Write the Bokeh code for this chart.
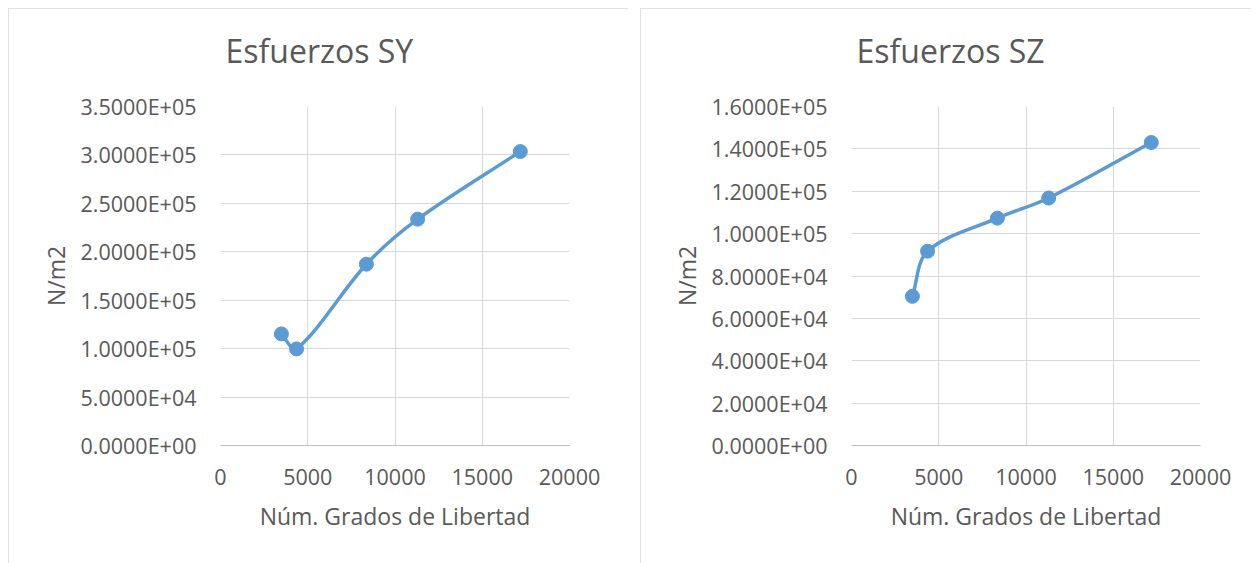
import math
from bokeh.plotting import figure
from bokeh.layouts import row
from bokeh.models import Range1d, FixedTicker, ColumnDataSource, Title
from bokeh.embed import file_html
from bokeh.resources import INLINE

# ---- data ----
dof = [3490, 4360, 8360, 11300, 17180]
sy_values = [115200, 99700, 187200, 233700, 303500]
sz_values = [70400, 91700, 107300, 116800, 143000]

x_ticks = [0, 5000, 10000, 15000, 20000]
sy_ticks = [0, 50000, 100000, 150000, 200000, 250000, 300000, 350000]
sz_ticks = [0, 20000, 40000, 60000, 80000, 100000, 120000, 140000, 160000]

titles = ["Esfuerzos SY", "Esfuerzos SZ"]
x_label = "Núm. Grados de Libertad"
y_label = "N/m2"

BLUE = "#5B9BD5"
TEXT = "#595959"
GRID = "#D9D9D9"
FONT = "Open Sans"

FRAME_W = 349
FRAME_H = 339


def smooth_source(xs, ys, xspan, yspan):
    """Bezier control points for a smoothed line (distance-weighted cardinal spline)."""
    kx = FRAME_W / xspan
    ky = FRAME_H / yspan
    n = len(xs)

    def dist(i, j):
        return math.hypot((xs[j] - xs[i]) * kx, (ys[j] - ys[i]) * ky)

    t = 1.0 / 3.0
    d = dict(x0=[], y0=[], x1=[], y1=[], cx0=[], cy0=[], cx1=[], cy1=[])
    for i in range(n - 1):
        a = max(i - 1, 0)
        b = min(i + 2, n - 1)
        d01 = dist(a, i)
        d12 = dist(i, i + 1)
        d23 = dist(i + 1, b)
        f1 = t * d12 / (d01 + d12)
        f2 = t * d12 / (d12 + d23)
        d["x0"].append(xs[i]); d["y0"].append(ys[i])
        d["x1"].append(xs[i + 1]); d["y1"].append(ys[i + 1])
        d["cx0"].append(xs[i] + (xs[i + 1] - xs[a]) * f1)
        d["cy0"].append(ys[i] + (ys[i + 1] - ys[a]) * f1)
        d["cx1"].append(xs[i + 1] - (xs[b] - xs[i]) * f2)
        d["cy1"].append(ys[i + 1] - (ys[b] - ys[i]) * f2)
    return ColumnDataSource(d)


def make_panel(title, values, yticks, width, border_left, border_right):
    p = figure(
        width=width, height=555,
        x_range=Range1d(x_ticks[0], x_ticks[-1]),
        y_range=Range1d(yticks[0], yticks[-1]),
        output_backend="svg", toolbar_location=None,
        min_border_left=border_left, min_border_right=border_right,
        min_border_top=98, min_border_bottom=118,
    )
    p.styles = {"outline": "1px solid #D9D9D9", "outline-offset": "-1px"}
    p.outline_line_color = None
    p.background_fill_color = "white"
    p.border_fill_color = "white"

    # empty spacer between the frame and the chart title
    p.add_layout(Title(text=" ", text_font_size="1px", standoff=32), "above")

    p.title.text = title
    p.title.align = "left"
    p.title.offset = 5
    p.title.standoff = 0
    p.title.text_font = FONT
    p.title.text_font_size = "32px"
    p.title.text_font_style = "normal"
    p.title.text_color = TEXT

    xa = p.xaxis[0]
    xa.ticker = FixedTicker(ticks=x_ticks)
    xa.major_label_overrides = {t: str(t) for t in x_ticks}
    xa.axis_line_color = "#BFBFBF"
    xa.axis_line_width = 1
    xa.major_tick_line_color = None
    xa.minor_tick_line_color = None
    xa.major_tick_out = 0
    xa.major_tick_in = 0
    xa.major_label_standoff = 23
    xa.major_label_text_font = FONT
    xa.major_label_text_font_size = "21.5px"
    xa.major_label_text_color = TEXT
    xa.axis_label = x_label
    xa.axis_label_standoff = 12
    xa.axis_label_text_font = FONT
    xa.axis_label_text_font_size = "23px"
    xa.axis_label_text_font_style = "normal"
    xa.axis_label_text_color = TEXT

    ya = p.yaxis[0]
    ya.ticker = FixedTicker(ticks=yticks)
    ya.major_label_overrides = {t: f"{t:.4E}" for t in yticks}
    ya.axis_line_color = None
    ya.major_tick_line_color = None
    ya.minor_tick_line_color = None
    ya.major_tick_out = 0
    ya.major_tick_in = 0
    ya.major_label_standoff = 24
    ya.major_label_text_font = FONT
    ya.major_label_text_font_size = "21.5px"
    ya.major_label_text_color = TEXT
    ya.axis_label = y_label
    ya.axis_label_standoff = 6
    ya.axis_label_text_font = FONT
    ya.axis_label_text_font_size = "23px"
    ya.axis_label_text_font_style = "normal"
    ya.axis_label_text_color = TEXT

    p.xgrid.grid_line_color = GRID
    p.ygrid.grid_line_color = GRID
    p.xgrid.grid_line_width = 1
    p.ygrid.grid_line_width = 1

    src = smooth_source(dof, values, x_ticks[-1] - x_ticks[0], yticks[-1] - yticks[0])
    p.bezier(x0="x0", y0="y0", x1="x1", y1="y1", cx0="cx0", cy0="cy0",
             cx1="cx1", cy1="cy1", source=src, line_color=BLUE, line_width=3.5,
             line_cap="round")
    p.scatter(dof, values, size=14, fill_color=BLUE, line_color=BLUE)
    return p


p1 = make_panel(titles[0], sy_values, sy_ticks, 620, 212, 59)
p2 = make_panel(titles[1], sz_values, sz_ticks, 611, 211, 51)

layout = row(p1, p2, spacing=12)
layout.margin = (8, 0, 0, 8)

open("out.html", "w").write(file_html(layout, INLINE))
